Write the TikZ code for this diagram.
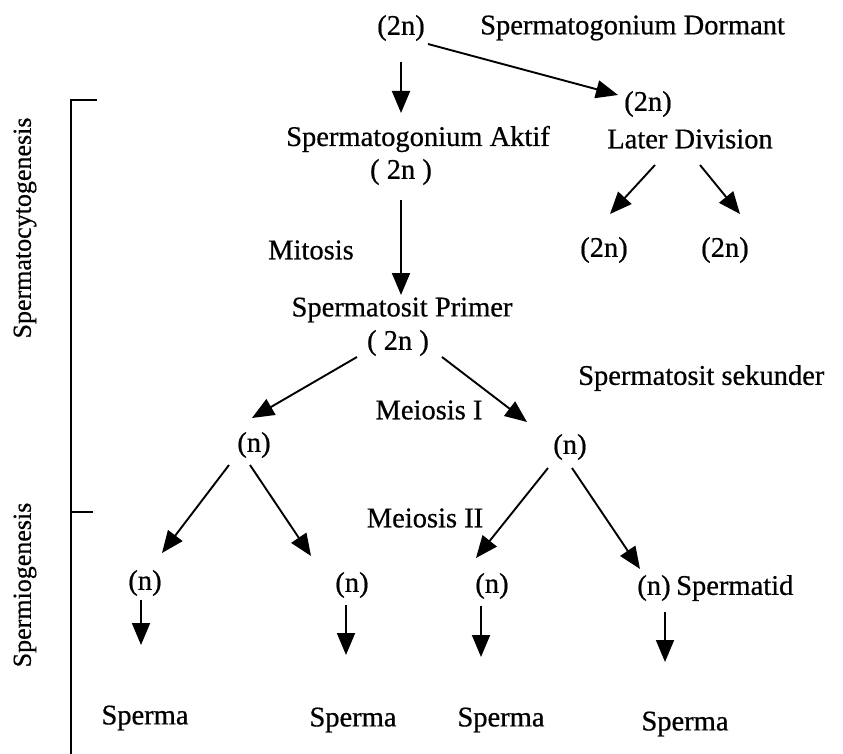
\documentclass[tikz,border=0pt]{standalone}
\usepackage{fontspec}
\setmainfont{Liberation Serif}[FakeBold=0.6]
\usetikzlibrary{arrows.meta}
\begin{document}
\begin{tikzpicture}[x=1pt,y=-1pt,
  lbl/.style={inner sep=0pt,font=\fontsize{28.5}{31}\selectfont},
  side/.style={inner sep=0pt,font=\fontsize{26}{28}\selectfont,rotate=90},
  arr/.style={line width=1.9pt,-{Triangle[length=22pt,width=18pt]}},
  brk/.style={line width=1.7pt}]
\useasboundingbox (0,0) rectangle (843,754);
% labels
\node[lbl] (top) at (401,28) {(2n)};
\node[lbl,anchor=west] (dorm) at (480,28) {Spermatogonium Dormant};
\node[lbl] (r2n) at (648,104) {(2n)};
\node[lbl] (later) at (690,139) {Later Division};
\node[lbl] (ld1) at (604,250) {(2n)};
\node[lbl] (ld2) at (725,250) {(2n)};
\node[lbl] (aktif) at (418,139) {Spermatogonium Aktif};
\node[lbl] (aktif2) at (401,172) {( 2n )};
\node[lbl] (mitosis) at (311,250) {Mitosis};
\node[lbl] (primer) at (402,310) {Spermatosit Primer};
\node[lbl] (primer2) at (398,343) {( 2n )};
\node[lbl,anchor=west] (sekunder) at (578,378) {Spermatosit sekunder};
\node[lbl] (meiosis1) at (429,410) {Meiosis I};
\node[lbl] (nL) at (254,445) {(n)};
\node[lbl] (nR) at (570,447) {(n)};
\node[lbl] (meiosis2) at (425,518) {Meiosis II};
\node[lbl] (b1) at (145,583) {(n)};
\node[lbl] (b2) at (352,585) {(n)};
\node[lbl] (b3) at (492,586) {(n)};
\node[lbl] (b4) at (654,588) {(n)};
\node[lbl,anchor=west] (spermatid) at (676,588) {Spermatid};
\node[lbl] (s1) at (145,718) {Sperma};
\node[lbl] (s2) at (353,720) {Sperma};
\node[lbl] (s3) at (501,720) {Sperma};
\node[lbl] (s4) at (685,724) {Sperma};
% side labels
\node[side] (cyto) at (25,228) {Spermatocytogenesis};
\node[side] (mio) at (25,585) {Spermiogenesis};
% bracket
\coordinate (bt) at (71,100);
\coordinate (bm) at (71,512);
\coordinate (bb) at (71,754);
\coordinate (btt) at (97,100);
\coordinate (bmt) at (93,512);
\draw[brk] (btt) -- (bt) -- (bb);
\draw[brk] (bm) -- (bmt);
% arrow end points
\coordinate (a0s) at (401,62);   \coordinate (a0e) at (401,113);
\coordinate (d0s) at (428,44);   \coordinate (d0e) at (618,95);
\coordinate (l1s) at (655,165);  \coordinate (l1e) at (610,214);
\coordinate (l2s) at (700,165);  \coordinate (l2e) at (740,214);
\coordinate (m0s) at (401,200);  \coordinate (m0e) at (401,295);
\coordinate (p1s) at (357,357);  \coordinate (p1e) at (252,418);
\coordinate (p2s) at (442,357);  \coordinate (p2e) at (527,422);
\coordinate (q1s) at (229,465);  \coordinate (q1e) at (162,553);
\coordinate (q2s) at (250,465);  \coordinate (q2e) at (311,556);
\coordinate (q3s) at (548,468);  \coordinate (q3e) at (476,558);
\coordinate (q4s) at (572,468);  \coordinate (q4e) at (640,569);
\coordinate (e1s) at (141,600);  \coordinate (e1e) at (141,645);
\coordinate (e2s) at (346,605);  \coordinate (e2e) at (346,655);
\coordinate (e3s) at (481,606);  \coordinate (e3e) at (481,657);
\coordinate (e4s) at (665,612);  \coordinate (e4e) at (665,662);
\foreach \s/\e in {a0s/a0e,d0s/d0e,l1s/l1e,l2s/l2e,m0s/m0e,p1s/p1e,p2s/p2e,
  q1s/q1e,q2s/q2e,q3s/q3e,q4s/q4e,e1s/e1e,e2s/e2e,e3s/e3e,e4s/e4e}
  \draw[arr] (\s) -- (\e);
\end{tikzpicture}
\end{document}
